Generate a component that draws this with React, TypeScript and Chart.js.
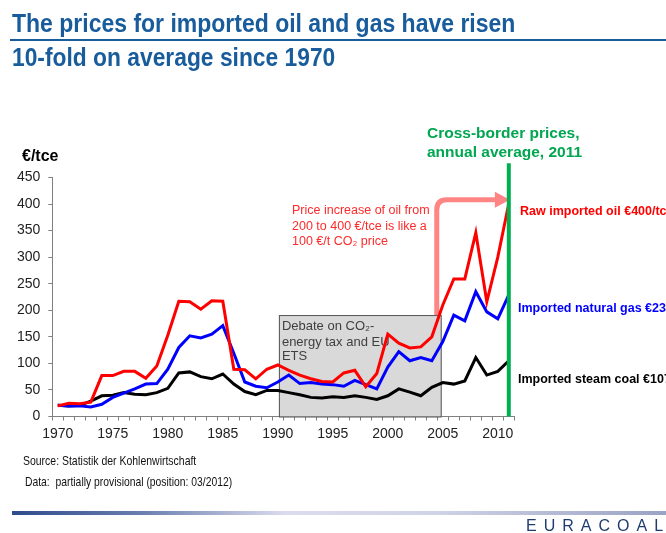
import React, { useEffect, useLayoutEffect, useRef } from "react";
import { Chart, registerables } from "chart.js";

Chart.register(...registerables);

const years: string[] = [];
for (let y = 1970; y <= 2011; y++) years.push(String(y));

const oil = [20, 25, 24, 27, 77, 77, 85, 85, 72, 95,
  153, 217, 216, 202, 218, 217, 89, 88, 71, 89,
  97, 87, 78, 71, 66, 65, 82, 87, 56, 81,
  155, 138, 129, 131, 150, 210, 259, 259, 346, 216,
  300, 401];
const gas = [21, 20, 20, 18, 23, 36, 44, 52, 61, 62,
  89, 130, 152, 148, 155, 171, 119, 65, 57, 54,
  65, 78, 62, 64, 61, 60, 57, 68, 60, 52,
  93, 122, 105, 111, 105, 141, 191, 180, 235, 197,
  184, 229];
const coal = [21, 20, 21, 29, 39, 40, 45, 42, 41, 45,
  53, 82, 84, 75, 71, 80, 61, 47, 41, 49,
  49, 45, 41, 36, 35, 37, 36, 39, 36, 32,
  39, 52, 46, 39, 55, 64, 61, 67, 111, 78,
  85, 105];

const yTicksMax = 450;
const yStep = 50;

const boxStart = 20.1; // index (1990)
const boxEnd = 34.9; // index (~2005)
const boxTop = 191;
const arrowX = 34.45;
const arrowY = 408;
const arrowTip = 41.1;
const greenTop = 477;
const markIndex = 41; // 2011

const FONT = "Arial, 'Liberation Sans', sans-serif";

const annotations = {
  id: "annotations",
  beforeDatasetsDraw(chart: any) {
    const { ctx, scales } = chart;
    const x = scales.x, y = scales.y;
    ctx.save();
    const ax = x.getPixelForValue(arrowX);
    const ay = y.getPixelForValue(arrowY);
    const baseY = y.getPixelForValue(boxTop);
    const tip = x.getPixelForValue(arrowTip);
    const headBase = tip - 15;
    const r = 10;
    ctx.strokeStyle = "rgba(255,120,120,0.9)";
    ctx.lineWidth = 5;
    ctx.beginPath();
    ctx.moveTo(ax, baseY);
    ctx.lineTo(ax, ay + r);
    ctx.quadraticCurveTo(ax, ay, ax + r, ay);
    ctx.lineTo(headBase, ay);
    ctx.stroke();
    ctx.fillStyle = "rgba(255,120,120,0.9)";
    ctx.beginPath();
    ctx.moveTo(headBase, ay - 8);
    ctx.lineTo(tip, ay);
    ctx.lineTo(headBase, ay + 8);
    ctx.closePath();
    ctx.fill();

    const bx0 = x.getPixelForValue(boxStart);
    const bx1 = x.getPixelForValue(boxEnd);
    const by0 = y.getPixelForValue(boxTop);
    const by1 = y.getPixelForValue(0);
    ctx.fillStyle = "#d9d9d9";
    ctx.fillRect(bx0, by0, bx1 - bx0, by1 - by0);
    ctx.strokeStyle = "#555555";
    ctx.lineWidth = 1;
    ctx.strokeRect(bx0 + 0.5, by0 + 0.5, bx1 - bx0 - 1, by1 - by0);
    ctx.fillStyle = "#404040";
    ctx.font = "13px " + FONT;
    ctx.textBaseline = "middle";
    ctx.textAlign = "left";
    ctx.fillText("Debate on CO₂-", bx0 + 3, by0 + 11);
    ctx.fillText("energy tax and EU", bx0 + 3, by0 + 27);
    ctx.fillText("ETS", bx0 + 3, by0 + 41);
    ctx.restore();
  },
  afterDatasetsDraw(chart: any) {
    const { ctx, scales } = chart;
    const x = scales.x, y = scales.y;
    ctx.save();
    const gx = x.getPixelForValue(markIndex);
    ctx.strokeStyle = "#00b050";
    ctx.lineWidth = 4;
    ctx.beginPath();
    ctx.moveTo(gx, y.getPixelForValue(greenTop));
    ctx.lineTo(gx, y.getPixelForValue(0));
    ctx.stroke();

    ctx.textBaseline = "middle";
    ctx.textAlign = "left";
    ctx.fillStyle = "#00a650";
    ctx.font = "bold 15.5px " + FONT;
    ctx.fillText("Cross-border prices,", 427, 134);
    ctx.fillText("annual average, 2011", 427, 153);

    ctx.fillStyle = "#ff2a2a";
    ctx.font = "12.5px " + FONT;
    ctx.fillText("Price increase of oil from", 292, 211);
    ctx.fillText("200 to 400 €/tce is like a", 292, 226.5);
    ctx.fillText("100 €/t CO₂ price", 292, 241.5);

    ctx.font = "bold 12.5px " + FONT;
    ctx.fillStyle = "#ff0000";
    ctx.fillText("Raw imported oil €400/tce", 520, 212);
    ctx.fillStyle = "#0000ff";
    ctx.fillText("Imported natural gas €230/tce", 518, 309);
    ctx.fillStyle = "#000000";
    ctx.fillText("Imported steam coal €107/tce", 518, 380);

    ctx.font = "bold 16px " + FONT;
    ctx.fillStyle = "#000";
    ctx.fillText("€/tce", 22, 157);
    ctx.restore();
  },
};

function FitText(props: { text: string; left: number; top: number; width: number; style: any }) {
  const ref = useRef<HTMLDivElement>(null);
  useLayoutEffect(() => {
    const el = ref.current;
    if (!el) return;
    el.style.transform = "none";
    const w = el.scrollWidth;
    if (w > 0) el.style.transform = `scaleX(${props.width / w})`;
  }, [props.text, props.width]);
  return (
    <div
      ref={ref}
      style={{
        position: "absolute",
        left: props.left,
        top: props.top,
        whiteSpace: "pre",
        display: "inline-block",
        transformOrigin: "0 0",
        ...props.style,
      }}
    >
      {props.text}
    </div>
  );
}

export default function App() {
  const ref = useRef<HTMLCanvasElement>(null);
  useEffect(() => {
    if (!ref.current) return;
    const chart = new Chart(ref.current, {
      type: "line",
      data: {
        labels: years,
        datasets: [
          { label: "Raw imported oil", data: oil, borderColor: "#ff0000", borderWidth: 3, pointRadius: 0, tension: 0, fill: false },
          { label: "Imported natural gas", data: gas, borderColor: "#0000ff", borderWidth: 3, pointRadius: 0, tension: 0, fill: false },
          { label: "Imported steam coal", data: coal, borderColor: "#000000", borderWidth: 3, pointRadius: 0, tension: 0, fill: false },
        ],
      },
      options: {
        responsive: false,
        animation: false,
        devicePixelRatio: 1,
        layout: { padding: { top: 177.5, right: 151.7, left: 0, bottom: 86.5 } },
        plugins: { legend: { display: false }, tooltip: { enabled: false } },
        scales: {
          x: {
            type: "category",
            offset: true,
            grid: { offset: true, drawOnChartArea: false, drawTicks: true, tickLength: 4, color: "#808080" },
            border: { display: true, color: "#808080", width: 1 },
            ticks: {
              autoSkip: false,
              maxRotation: 0,
              minRotation: 0,
              padding: 5,
              color: "#222",
              font: { size: 14, family: FONT },
              callback: (_v: any, i: number) => (Number(years[i]) % 5 === 0 ? years[i] : ""),
            },
            afterFit: (s: any) => { s.height = 30; },
          },
          y: {
            min: 0,
            max: yTicksMax,
            grid: { drawOnChartArea: false, drawTicks: true, tickLength: 4, color: "#808080" },
            border: { display: true, color: "#808080", width: 1 },
            ticks: {
              stepSize: yStep,
              padding: 8,
              color: "#222",
              font: { size: 14, family: FONT },
            },
            afterFit: (s: any) => { s.width = 52.3; },
          },
        },
      },
      plugins: [annotations],
    });
    return () => chart.destroy();
  }, []);

  const titleStyle = { fontFamily: FONT, fontWeight: "bold", fontSize: 25, lineHeight: "25px", color: "#185c9c" };
  const smallStyle = { fontFamily: FONT, fontSize: 13, lineHeight: "14px", color: "#111" };
  return (
    <div style={{ position: "fixed", left: 0, top: 0, width: 666, height: 533, background: "#fff", overflow: "hidden" }}>
      <canvas ref={ref} width={666} height={533} style={{ position: "absolute", left: 0, top: 0, width: 666, height: 533 }} />
      <FitText text="The prices for imported oil and gas have risen" left={12} top={10.5} width={503} style={titleStyle} />
      <div style={{ position: "absolute", left: 10, top: 39, width: 656, height: 2, background: "#185c9c" }} />
      <FitText text="10-fold on average since 1970" left={12} top={44.5} width={323} style={titleStyle} />
      <FitText text="Source: Statistik der Kohlenwirtschaft" left={22.5} top={453.5} width={173} style={smallStyle} />
      <FitText text="Data:  partially provisional (position: 03/2012)" left={25} top={474.5} width={207} style={smallStyle} />
      <div style={{ position: "absolute", left: 12, top: 511, width: 654, height: 4, background: "linear-gradient(to right, #2e4b8c 0%, #6b7fb0 20%, #dcdcee 42%, #d0d3e6 65%, #9aa3c4 100%)" }} />
      <div style={{ position: "absolute", left: 526, top: 518, fontFamily: FONT, fontSize: 16, lineHeight: "16px", letterSpacing: 7, color: "#1e3d6e", whiteSpace: "nowrap" }}>
        EURACOAL
      </div>
    </div>
  );
}
